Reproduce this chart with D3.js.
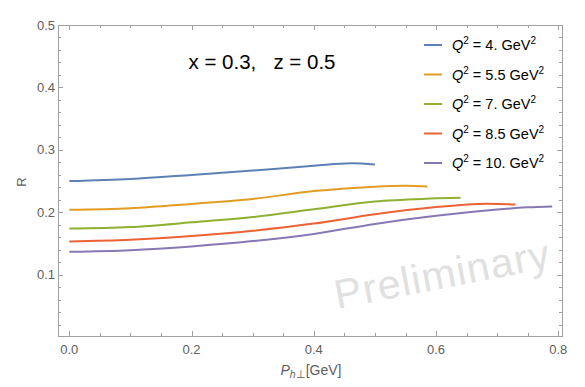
<!DOCTYPE html>
<html>
<head>
<meta charset="utf-8">
<script src="https://cdn.jsdelivr.net/npm/d3@7"></script>
<style>
  body { margin: 0; background: #fff; }
  text { font-family: "Liberation Sans", Arial, sans-serif; }
</style>
</head>
<body>
<div class="chart"></div>
<script>
var width = 585,
    height = 387;

// curves: P_h-perp (GeV) and R for each Q^2
var labels = ["4.", "5.5", "7.", "8.5", "10."];
var colors = ["#5e81b5", "#e19c24", "#8fb032", "#eb6235", "#8778b3"];

var pQ4  = [0, 0.1, 0.2, 0.3, 0.4, 0.46, 0.5];
var rQ4  = [0.250, 0.2535, 0.260, 0.267, 0.2745, 0.2785, 0.2765];
var pQ55 = [0, 0.1, 0.2, 0.3, 0.4, 0.5, 0.55, 0.586];
var rQ55 = [0.204, 0.2065, 0.2135, 0.2215, 0.234, 0.241, 0.2425, 0.2415];
var pQ7  = [0, 0.1, 0.2, 0.3, 0.4, 0.5, 0.59, 0.64];
var rQ7  = [0.174, 0.1765, 0.184, 0.1925, 0.205, 0.2175, 0.222, 0.2232];
var pQ85 = [0, 0.1, 0.2, 0.3, 0.4, 0.5, 0.6, 0.67, 0.73];
var rQ85 = [0.1535, 0.156, 0.162, 0.1705, 0.182, 0.197, 0.2085, 0.2135, 0.2125];
var pQ10 = [0, 0.1, 0.2, 0.3, 0.4, 0.5, 0.6, 0.7, 0.75, 0.79];
var rQ10 = [0.137, 0.1395, 0.1455, 0.154, 0.1655, 0.1815, 0.1945, 0.2045, 0.208, 0.2095];

var xTicks = [0, 0.2, 0.4, 0.6, 0.8];
var yTicks = [0.1, 0.2, 0.3, 0.4, 0.5];

var series = [[pQ4, rQ4], [pQ55, rQ55], [pQ7, rQ7], [pQ85, rQ85], [pQ10, rQ10]].map(function(s, i) {
    return {
        label: labels[i],
        color: colors[i],
        values: s[0].map(function(p, j) { return { p: p, r: s[1][j] }; })
    };
});

// plot frame (note: "top" is reserved on window, so use a prefix)
var fLeft = 58, fRight = 562, fTop = 25, fBottom = 336;

var x = d3.scaleLinear().domain([-0.0185, 0.806]).range([fLeft, fRight]);
var y = d3.scaleLinear().domain([0.002, 0.5]).range([fBottom, fTop]);

var svg = d3.select(".chart").append("svg")
    .attr("width", width)
    .attr("height", height);

// watermark behind everything
svg.append("text")
    .attr("transform", "translate(445,288) rotate(-11)")
    .attr("text-anchor", "middle")
    .style("fill", "#e0e0e0")
    .style("font-size", "41px")
    .style("letter-spacing", "1.3px")
    .text("Preliminary");

var frame = svg.append("g").attr("class", "frame");

frame.append("rect")
    .attr("x", fLeft + 0.5)
    .attr("y", fTop + 0.5)
    .attr("width", fRight - fLeft)
    .attr("height", fBottom - fTop)
    .attr("fill", "none")
    .attr("stroke", "#a0a0a0")
    .attr("stroke-width", 1);

var xMinor = d3.range(0, 0.801, 0.05);
var yMinor = d3.range(0.02, 0.5001, 0.02);

function isMajor(v, list) {
    return list.some(function(t) { return Math.abs(t - v) < 1e-6; });
}

// x ticks, bottom and top
xMinor.forEach(function(v) {
    var len = isMajor(v, xTicks) ? 5 : 3;
    var px = Math.round(x(v)) + 0.5;
    frame.append("line").attr("x1", px).attr("x2", px)
        .attr("y1", fBottom).attr("y2", fBottom - len)
        .attr("stroke", "#a0a0a0");
    frame.append("line").attr("x1", px).attr("x2", px)
        .attr("y1", fTop).attr("y2", fTop + len)
        .attr("stroke", "#a0a0a0");
});

// y ticks, left and right
yMinor.forEach(function(v) {
    var len = isMajor(v, yTicks) ? 5 : 3;
    var py = Math.round(y(v)) + 0.5;
    frame.append("line").attr("x1", fLeft).attr("x2", fLeft + len)
        .attr("y1", py).attr("y2", py)
        .attr("stroke", "#a0a0a0");
    frame.append("line").attr("x1", fRight).attr("x2", fRight - len)
        .attr("y1", py).attr("y2", py)
        .attr("stroke", "#a0a0a0");
});

frame.selectAll(".xlab")
    .data(xTicks)
    .enter().append("text")
    .attr("x", function(d) { return x(d); })
    .attr("y", fBottom + 18)
    .attr("text-anchor", "middle")
    .style("fill", "#606060")
    .style("font-size", "13px")
    .text(function(d) { return d3.format(".1f")(d); });

frame.selectAll(".ylab")
    .data(yTicks)
    .enter().append("text")
    .attr("x", fLeft - 3)
    .attr("y", function(d) { return y(d) + 4.5; })
    .attr("text-anchor", "end")
    .style("fill", "#606060")
    .style("font-size", "13px")
    .text(function(d) { return d3.format(".1f")(d); });

// axis labels
svg.append("text")
    .attr("transform", "translate(26,182) rotate(-90)")
    .attr("text-anchor", "middle")
    .style("fill", "#606060")
    .style("font-size", "13px")
    .text("R");

var xl = svg.append("text")
    .attr("x", 311)
    .attr("y", 375)
    .attr("text-anchor", "middle")
    .style("fill", "#606060")
    .style("font-size", "14px");
xl.append("tspan").style("font-style", "italic").text("P");
xl.append("tspan").attr("dy", 3).style("font-size", "10.5px").style("font-style", "italic").text("h");
xl.append("tspan").style("font-size", "10.5px").text("\u22a5");
xl.append("tspan").attr("dy", -3).text("[GeV]");

// curves
var line = d3.line()
    .x(function(d) { return x(d.p); })
    .y(function(d) { return y(d.r); })
    .curve(d3.curveCatmullRom.alpha(0.5));

svg.selectAll(".curve")
    .data(series)
    .enter().append("path")
    .attr("class", "curve")
    .attr("fill", "none")
    .attr("stroke", function(d) { return d.color; })
    .attr("stroke-width", 2)
    .attr("d", function(d) { return line(d.values); });

// title
svg.append("text")
    .attr("x", 262)
    .attr("y", 69)
    .attr("text-anchor", "middle")
    .style("fill", "#000")
    .style("font-size", "20.5px")
    .style("white-space", "pre")
    .text("x = 0.3,   z = 0.5");

// legend
var legend = svg.selectAll(".legend")
    .data(series)
    .enter().append("g")
    .attr("class", "legend")
    .attr("transform", function(d, i) { return "translate(424," + (45 + i * 29.5) + ")"; });

legend.append("line")
    .attr("x1", 0).attr("x2", 18)
    .attr("y1", 0).attr("y2", 0)
    .attr("stroke", function(d) { return d.color; })
    .attr("stroke-width", 2);

var lt = legend.append("text")
    .attr("x", 28)
    .attr("y", 5)
    .style("fill", "#000")
    .style("font-size", "14.5px");
lt.append("tspan").style("font-style", "italic").text("Q");
lt.append("tspan").attr("dy", -6).style("font-size", "10px").text("2");
lt.append("tspan").attr("dy", 6).text(function(d) { return " = " + d.label + " GeV"; });
lt.append("tspan").attr("dy", -6).style("font-size", "10px").text("2");
</script>
</body>
</html>
